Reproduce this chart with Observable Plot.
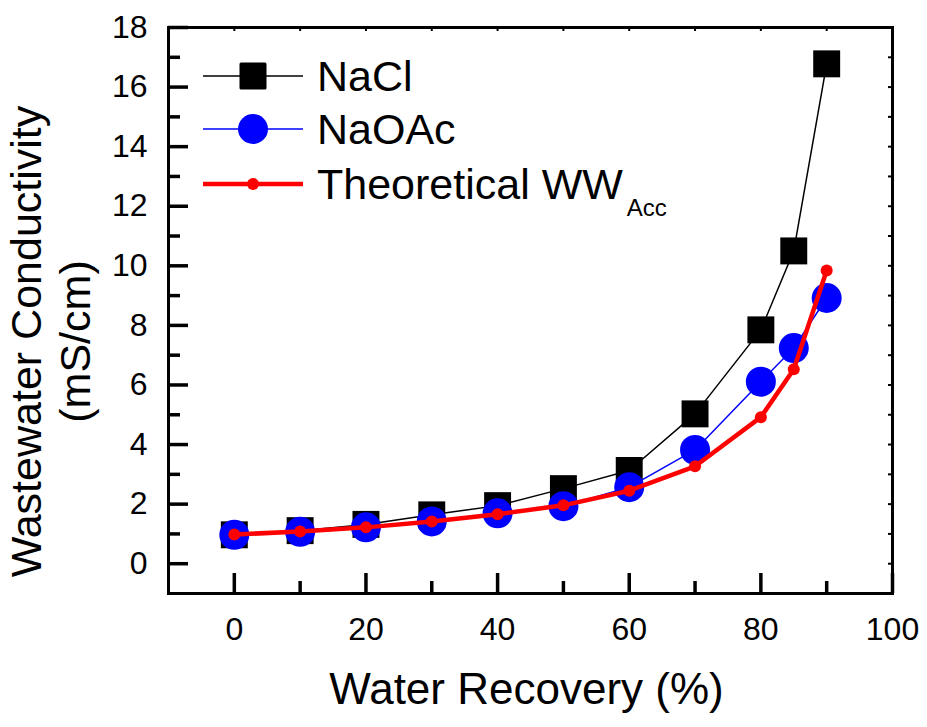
<!DOCTYPE html>
<html><head><meta charset="utf-8">
<script src="https://cdn.jsdelivr.net/npm/d3@7"></script>
<script src="https://cdn.jsdelivr.net/npm/@observablehq/plot@0.6"></script>
<style>
body{margin:0;background:#fff;}
#wrap{width:927px;height:727px;font-family:"Liberation Sans",Arial,sans-serif;}
</style>
</head><body><div id="wrap"></div>
<script>
// ---- data ----
const recovery = [0, 10, 20, 30, 40, 50, 60, 70, 80, 85, 90];
const nacl = [0.97, 1.11, 1.32, 1.64, 1.95, 2.52, 3.13, 5.03, 7.85, 10.5, 16.78];
const naoac = [0.97, 1.07, 1.22, 1.42, 1.69, 1.93, 2.57, 3.82, 6.11, 7.24, 8.92];
const theoretical = [0.98, 1.08, 1.22, 1.42, 1.66, 1.96, 2.45, 3.27, 4.92, 6.53, 9.84];
const seriesNames = ["NaCl", "NaOAc", "Theoretical WW"];
const seriesSub = ["", "", "Acc"];
const seriesColors = ["#000000", "#0000ff", "#ff0000"];
const xMajor = [0, 20, 40, 60, 80, 100];
const xMinor = [10, 30, 50, 70, 90];
const xAll = [-10, 0, 10, 20, 30, 40, 50, 60, 70, 80, 90, 100];
const yMajor = [0, 2, 4, 6, 8, 10, 12, 14, 16, 18];
const yMinor = [1, 3, 5, 7, 9, 11, 13, 15, 17];
const yAll = [-1, 0, 1, 2, 3, 4, 5, 6, 7, 8, 9, 10, 11, 12, 13, 14, 15, 16, 17, 18];
const xDomain = [-10, 100];
const yDomain = [-1, 18];
const xTitle = "Water Recovery (%)";
const yTitle = "Wastewater Conductivity\n(mS/cm)";

const rows = recovery.map((r, i) => ({r, nacl: nacl[i], naoac: naoac[i], theo: theoretical[i]}));
const font = '"Liberation Sans", Arial, sans-serif';

const W = 927, H = 727, mL = 168, mR = 35, mT = 27, mB = 134;
const fw = W - mL - mR, fh = H - mT - mB;
// convert tick lengths in pixels to data units
const xu = px => px * (xDomain[1] - xDomain[0]) / fw;
const yu = px => px * (yDomain[1] - yDomain[0]) / fh;

const chart = Plot.plot({
  width: W, height: H,
  marginLeft: mL, marginRight: mR, marginTop: mT, marginBottom: mB,
  x: {domain: xDomain},
  y: {domain: yDomain},
  style: {fontFamily: font},
  marks: [
    // tick labels
    Plot.axisX(xMajor, {tickSize: 0, tickPadding: 24, fontSize: 32, label: null}),
    Plot.axisY(yMajor, {tickSize: 0, tickPadding: 21, fontSize: 32, label: null}),
    // series
    Plot.line(rows, {x: "r", y: "nacl", stroke: seriesColors[0], strokeWidth: 1.5}),
    Plot.dot(rows, {x: "r", y: "nacl", symbol: "square", r: 15.2, fill: seriesColors[0], stroke: "none"}),
    Plot.line(rows, {x: "r", y: "naoac", stroke: seriesColors[1], strokeWidth: 1.5}),
    Plot.dot(rows, {x: "r", y: "naoac", symbol: "circle", r: 15, fill: seriesColors[1], stroke: "none"}),
    Plot.line(rows, {x: "r", y: "theo", stroke: seriesColors[2], strokeWidth: 4.5}),
    Plot.dot(rows, {x: "r", y: "theo", symbol: "circle", r: 6, fill: seriesColors[2], stroke: "none"}),
    Plot.frame({stroke: "black", strokeWidth: 3}),
    // inward ticks, drawn on top of the frame
    Plot.ruleX(xMajor, {x: d => d, y1: yDomain[0], y2: yDomain[0] + yu(20), stroke: "#000", strokeWidth: 3.5}),
    Plot.ruleX(xMinor, {x: d => d, y1: yDomain[0], y2: yDomain[0] + yu(12), stroke: "#000", strokeWidth: 3.5}),
    Plot.ruleY(yMajor, {y: d => d, x1: xDomain[0], x2: xDomain[0] + xu(20), stroke: "#000", strokeWidth: 3.5}),
    Plot.ruleY(yMinor, {y: d => d, x1: xDomain[0], x2: xDomain[0] + xu(12), stroke: "#000", strokeWidth: 3.5}),
    Plot.ruleY(yAll, {y: d => d, x1: xDomain[1] - xu(4), x2: xDomain[1], stroke: "#000", strokeWidth: 2}),
    Plot.ruleX(xAll, {x: d => d, y1: yDomain[1] - yu(4), y2: yDomain[1], stroke: "#000", strokeWidth: 2}),
    // axis titles
    Plot.text([xTitle], {text: d => d, frameAnchor: "bottom", dx: -4, dy: 96, fontSize: 44, textAnchor: "middle", lineAnchor: "middle"}),
    Plot.text([yTitle], {text: d => d, frameAnchor: "left", rotate: -90, dx: -119, dy: 31, fontSize: 43, lineHeight: 1.14, textAnchor: "middle", lineAnchor: "middle"})
  ]
});
document.getElementById("wrap").appendChild(chart);

// ---- legend (inside the chart svg) ----
const leg = d3.select(chart).append("g").attr("aria-label", "legend").attr("text-anchor", "start");
const rowY = [76, 129, 184];
seriesNames.forEach((name, i) => {
  const g = leg.append("g").attr("transform", `translate(0,${rowY[i]})`);
  g.append("line").attr("x1", 203).attr("x2", 303).attr("y1", 0).attr("y2", 0)
    .attr("stroke", seriesColors[i]).attr("stroke-width", i === 2 ? 4.5 : 1.5);
  if (i === 0) g.append("rect").attr("x", 253 - 13.5).attr("y", -13.5).attr("width", 27).attr("height", 27).attr("rx", 1.5).attr("fill", seriesColors[i]);
  if (i === 1) g.append("circle").attr("cx", 253).attr("cy", 0).attr("r", 15).attr("fill", seriesColors[i]);
  if (i === 2) g.append("circle").attr("cx", 253).attr("cy", 0).attr("r", 6).attr("fill", seriesColors[i]);
  const t = g.append("text").attr("x", 317).attr("y", 15).attr("text-anchor", "start")
    .attr("font-family", font).attr("font-size", 43).attr("fill", "black").text(name);
  if (seriesSub[i]) t.append("tspan").attr("dx", 4).attr("dy", 17).attr("font-size", 24).text(seriesSub[i]);
});
</script>
</body></html>
